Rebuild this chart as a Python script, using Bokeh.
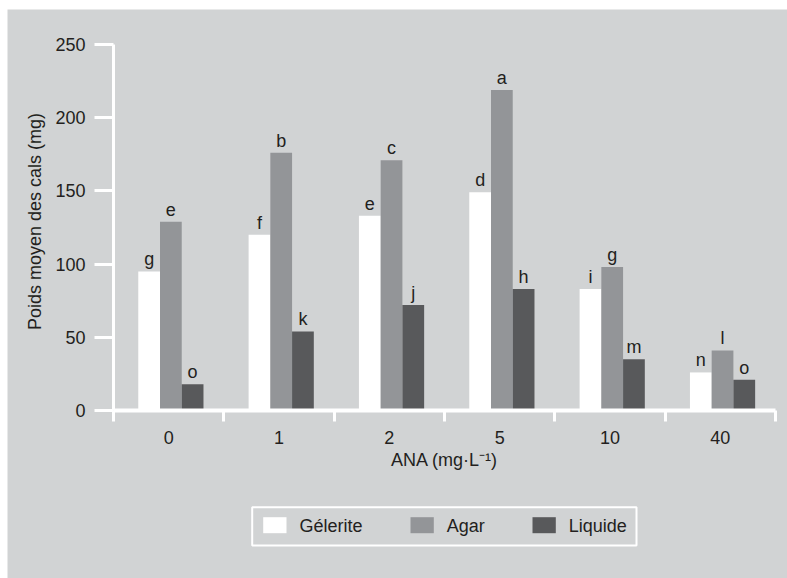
import math
from bokeh.plotting import figure
from bokeh.models import Range1d, FixedTicker, ColumnDataSource
from bokeh.core.properties import value
from bokeh.embed import file_html
from bokeh.resources import INLINE

# ---- data ----
categories = ["0", "1", "2", "5", "10", "40"]
gelerite = [95, 120, 133, 149, 83, 26]
agar = [129, 176, 171, 219, 98, 41]
liquide = [18, 54, 72, 83, 35, 21]
gelerite_letters = ["g", "f", "e", "d", "i", "n"]
agar_letters = ["e", "b", "c", "a", "g", "l"]
liquide_letters = ["o", "k", "j", "h", "m", "o"]
y_ticks = [0, 50, 100, 150, 200, 250]
series_names = ["Gélerite", "Agar", "Liquide"]
x_title = "ANA (mg·L⁻¹)"
y_title = "Poids moyen des cals (mg)"

# ---- style / layout (page pixels) ----
BG = "#d1d3d4"
TXT = "#231f20"
FONT = "Liberation Sans"
FS = "18px"
colors = ["#ffffff", "#939598", "#58595b"]
offsets = [-0.177, 0.02, 0.217]
bar_w = 0.197

FR_L, FR_T, FR_R, FR_B = 7, 9, 787, 578      # figure/frame on the page
X0_PX, XN_PX = 113, 775                      # category axis extent
Y0_PX, YT_PX = 410, 44                       # value 0 and value 250
Y_TOP = 250

n = len(categories)
centers = [i + 0.5 for i in range(n)]
kx = (XN_PX - X0_PX) / n
ky = (Y0_PX - YT_PX) / Y_TOP
x_range = Range1d((FR_L - X0_PX) / kx, (FR_R - X0_PX) / kx)
y_range = Range1d(-(FR_B - Y0_PX) / ky, Y_TOP + (YT_PX - FR_T) / ky)

p = figure(width=FR_R - FR_L, height=FR_B - FR_T, output_backend="svg",
           toolbar_location=None, x_range=x_range, y_range=y_range,
           min_border_left=0, min_border_right=0, min_border_top=0, min_border_bottom=0,
           background_fill_color=BG, border_fill_color=BG, outline_line_color=None,
           title=None, margin=(FR_T, 0, 0, FR_L))
p.extra_x_ranges = {"px": Range1d(FR_L, FR_R)}
p.extra_y_ranges = {"py": Range1d(FR_B, FR_T)}
p.xgrid.visible = False
p.ygrid.visible = False

for name, vals, letters, color, off in zip(series_names, [gelerite, agar, liquide],
                                           [gelerite_letters, agar_letters, liquide_letters],
                                           colors, offsets):
    src = ColumnDataSource(dict(x=[c + off for c in centers], top=vals, lab=letters))
    p.vbar(x="x", top="top", bottom=0, width=bar_w, source=src,
           fill_color=color, line_color=None)
    p.text(x="x", y="top", text="lab", source=src, text_align="center",
           text_baseline="alphabetic", y_offset=-12, text_font=value(FONT),
           text_font_size=FS, text_color=TXT)

# x axis (drawn at value 0)
xa = p.xaxis[0]
xa.fixed_location = 0
xa.bounds = (0, n)
xa.ticker = FixedTicker(ticks=centers, minor_ticks=list(range(n + 1)))
xa.major_label_overrides = {c: lab for c, lab in zip(centers, categories)}
xa.major_tick_line_color = None
xa.major_tick_out = 0
xa.major_tick_in = 0
xa.minor_tick_line_color = "white"
xa.minor_tick_line_width = 3
xa.minor_tick_out = 11
xa.minor_tick_in = 0
xa.axis_line_color = "white"
xa.axis_line_width = 4
xa.major_label_standoff = 9
xa.major_label_text_font = FONT
xa.major_label_text_font_size = FS
xa.major_label_text_color = TXT

# y axis (drawn at category origin)
ya = p.yaxis[0]
ya.fixed_location = 0
ya.bounds = (0, Y_TOP)
ya.ticker = FixedTicker(ticks=y_ticks)
ya.major_tick_out = 19
ya.major_tick_in = 0
ya.major_tick_line_color = "white"
ya.major_tick_line_width = 3
ya.minor_tick_line_color = None
ya.axis_line_color = "white"
ya.axis_line_width = 3
ya.major_label_standoff = 9
ya.major_label_text_font = FONT
ya.major_label_text_font_size = FS
ya.major_label_text_color = TXT

# axis titles
p.text(x=[(X0_PX + XN_PX) / 2], y=[459], text=[x_title], x_range_name="px",
       y_range_name="py", text_align="center", text_baseline="middle",
       text_font=value(FONT), text_font_size=FS, text_color=TXT)
p.text(x=[34], y=[221], text=[y_title], x_range_name="px", y_range_name="py",
       angle=math.pi / 2, text_align="center", text_baseline="middle",
       text_font=value(FONT), text_font_size=FS, text_color=TXT)

# legend (page pixels)
LEG_BOX = (251.7, 636, 506.7, 545)       # left, right, top, bottom
SW_W, SW_T, SW_B = 23.3, 516.7, 532.7
item_x = [262.7, 410, 532]
label_gap = 13
p.quad(left=[LEG_BOX[0]], right=[LEG_BOX[1]], top=[LEG_BOX[2]], bottom=[LEG_BOX[3]],
       x_range_name="px", y_range_name="py", fill_color=None,
       line_color="white", line_width=2)
p.quad(left=item_x, right=[x + SW_W for x in item_x], top=[SW_T] * 3, bottom=[SW_B] * 3,
       x_range_name="px", y_range_name="py", fill_color=colors, line_color=None)
p.text(x=[x + SW_W + label_gap for x in item_x], y=[525.5] * 3, text=series_names,
       x_range_name="px", y_range_name="py", text_align="left", text_baseline="middle",
       text_font=value(FONT), text_font_size=FS, text_color=TXT)

open("out.html", "w").write(file_html(p, INLINE))
